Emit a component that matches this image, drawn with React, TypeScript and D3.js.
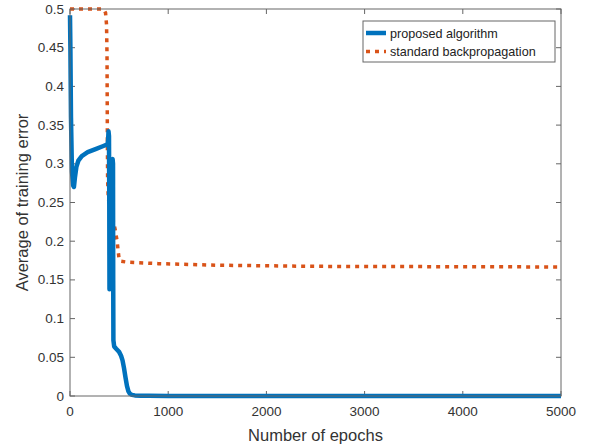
import React from 'react';
import * as d3 from 'd3';

// proposed algorithm: [epoch, error]
const proposedEpochs = [0, 4, 10, 20, 32, 40, 50, 65, 85, 120, 180, 260, 340, 380, 388, 392, 397, 400, 402, 405, 410, 418, 428, 434, 438, 440, 442, 450, 470, 500, 520, 535, 550, 565, 580, 595, 610, 630, 660, 720, 800, 1000, 1500, 2500, 5000];
const proposedValues = [0.492, 0.45, 0.36, 0.29, 0.272, 0.27, 0.282, 0.296, 0.304, 0.31, 0.315, 0.319, 0.323, 0.325, 0.33, 0.342, 0.336, 0.25, 0.138, 0.2, 0.27, 0.298, 0.304, 0.306, 0.3, 0.15, 0.072, 0.064, 0.061, 0.057, 0.052, 0.046, 0.036, 0.024, 0.013, 0.006, 0.003, 0.0015, 0.0008, 0.0004, 0.0002, 0.0001, 0.00005, 0.00002, 0];

// standard backpropagation: [epoch, error]
const standardEpochs = [0, 320, 345, 362, 372, 377, 380, 383, 390, 405, 425, 440, 460, 480, 490, 500, 520, 580, 900, 1500, 2500, 5000];
const standardValues = [0.5, 0.5, 0.499, 0.495, 0.48, 0.44, 0.35, 0.28, 0.255, 0.244, 0.235, 0.227, 0.215, 0.2, 0.188, 0.177, 0.174, 0.173, 0.171, 0.169, 0.1675, 0.1667];

const xTicks = [0, 1000, 2000, 3000, 4000, 5000];
const yTicks = [0, 0.05, 0.1, 0.15, 0.2, 0.25, 0.3, 0.35, 0.4, 0.45, 0.5];
const seriesNames = ['proposed algorithm', 'standard backpropagation'];

const W = 590, H = 446;
const left = 70, right = 561, top = 9, bottom = 396;
const axisColor = '#666';
const textColor = '#333';
const font = 'Liberation Sans, Arial, sans-serif';

export default function App() {
  const x = d3.scaleLinear().domain([0, 5000]).range([left, right]);
  const y = d3.scaleLinear().domain([0, 0.5]).range([bottom, top]);
  const line = d3.line<[number, number]>().x(d => x(d[0])).y(d => y(d[1]));
  const proposed = proposedEpochs.map((e, i) => [e, proposedValues[i]] as [number, number]);
  const standard = standardEpochs.map((e, i) => [e, standardValues[i]] as [number, number]);
  const tl = 5;

  return (
    <div style={{ position: 'fixed', left: 0, top: 0 }}>
      <svg width={W} height={H} style={{ display: 'block', background: '#fff' }}>
        <rect x={left} y={top} width={right - left} height={bottom - top} fill="#fff" />
        {/* ticks */}
        {xTicks.map(t => (
          <g key={'x' + t}>
            <line x1={x(t)} x2={x(t)} y1={bottom} y2={bottom - tl} stroke={axisColor} />
            <line x1={x(t)} x2={x(t)} y1={top} y2={top + tl} stroke={axisColor} />
            <text x={x(t)} y={bottom + 20} textAnchor="middle" fontSize={13.5} fill={textColor} fontFamily={font}>{t}</text>
          </g>
        ))}
        {yTicks.map(t => (
          <g key={'y' + t}>
            <line x1={left} x2={left + tl} y1={y(t)} y2={y(t)} stroke={axisColor} />
            <line x1={right} x2={right - tl} y1={y(t)} y2={y(t)} stroke={axisColor} />
            <text x={left - 6} y={y(t) + 4.5} textAnchor="end" fontSize={13.5} fill={textColor} fontFamily={font}>{d3.format('~g')(t)}</text>
          </g>
        ))}
        <path d={line(standard) || ''} fill="none" stroke="#D95319" strokeWidth={3.5} strokeDasharray="4 5" />
        <path d={line(proposed) || ''} fill="none" stroke="#0072BD" strokeWidth={4.5} strokeLinejoin="round" />
        <rect x={left} y={top} width={right - left} height={bottom - top} fill="none" stroke={axisColor} strokeWidth={1} />
        {/* legend */}
        <g fontFamily={font} fontSize={12.6} fill="#222">
          <rect x={363} y={21} width={192} height={41} fill="#fff" stroke={axisColor} />
          <line x1={366} x2={386} y1={33} y2={33} stroke="#0072BD" strokeWidth={4.5} />
          <line x1={366} x2={386} y1={51.5} y2={51.5} stroke="#D95319" strokeWidth={3.5} strokeDasharray="4 5" />
          <text x={390} y={37.5}>{seriesNames[0]}</text>
          <text x={390} y={56}>{seriesNames[1]}</text>
        </g>
        <text x={(left + right) / 2} y={441} textAnchor="middle" fontSize={16.5} fill={textColor} fontFamily={font}>Number of epochs</text>
        <text transform={`translate(28,${(top + bottom) / 2}) rotate(-90)`} textAnchor="middle" fontSize={16.5} fill={textColor} fontFamily={font}>Average of training error</text>
      </svg>
    </div>
  );
}
